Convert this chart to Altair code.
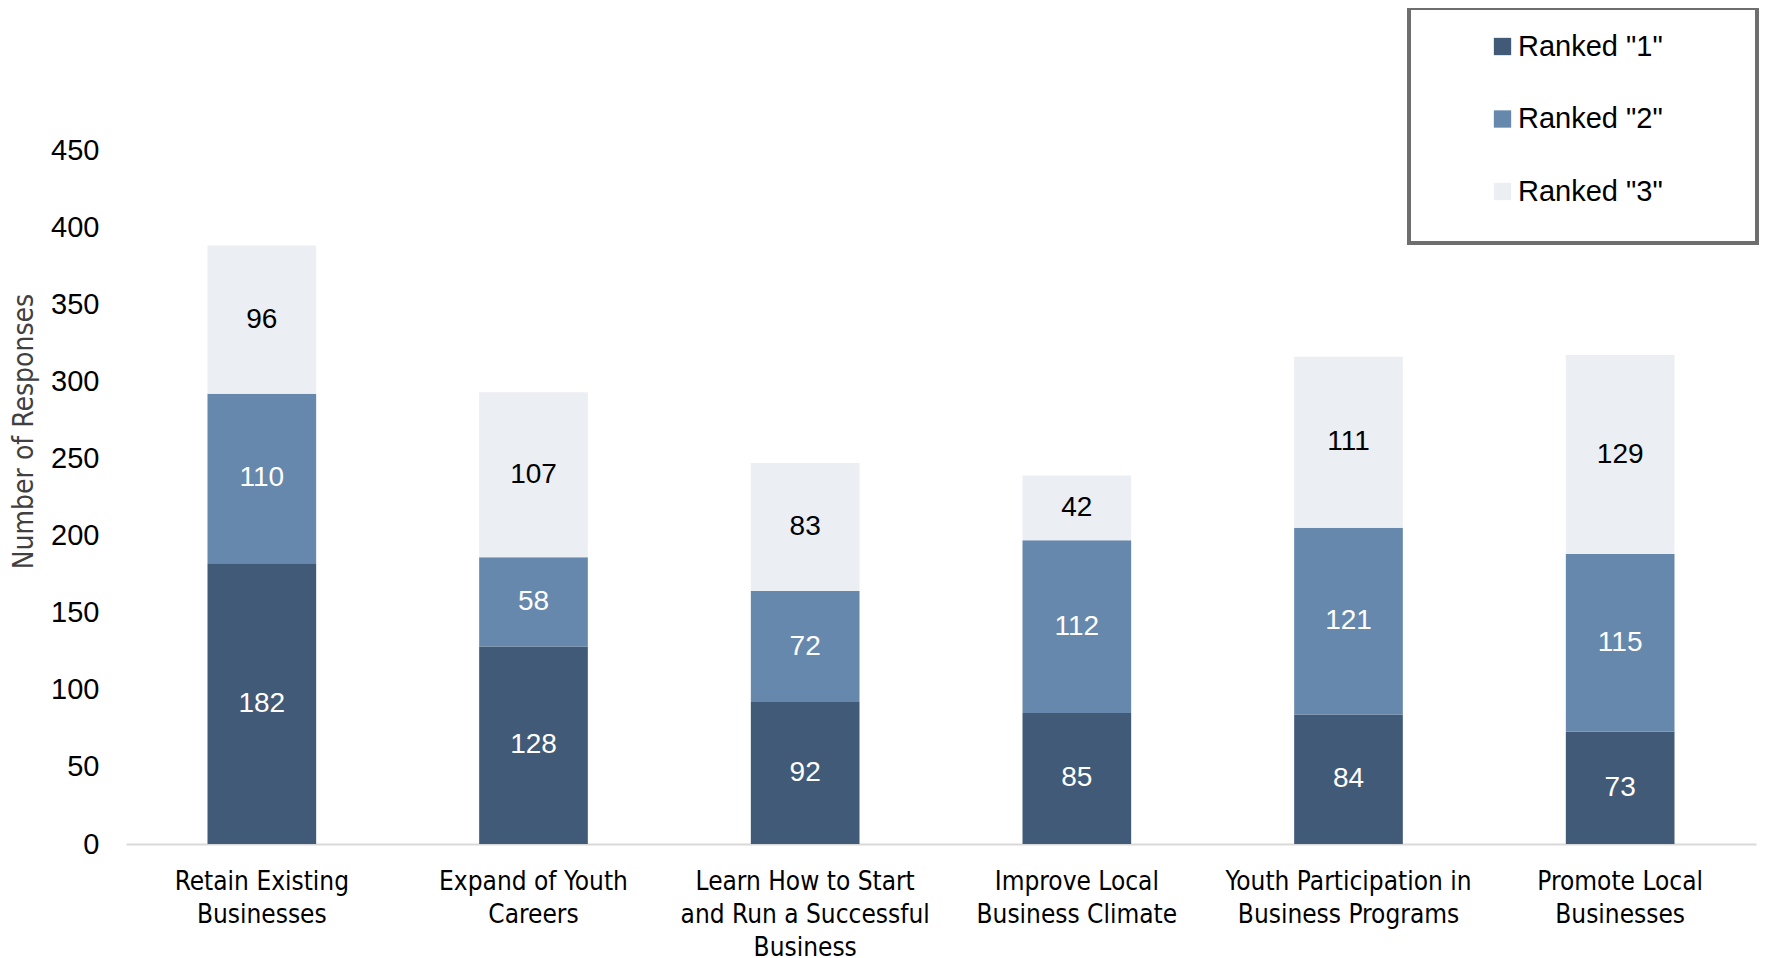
import altair as alt
import pandas as pd

categories = [
    "Retain Existing|Businesses",
    "Expand of Youth|Careers",
    "Learn How to Start|and Run a Successful|Business",
    "Improve Local|Business Climate",
    "Youth Participation in|Business Programs",
    "Promote Local|Businesses",
]
ranks = ['Ranked "1"', 'Ranked "2"', 'Ranked "3"']
rank1 = [182, 128, 92, 85, 84, 73]
rank2 = [110, 58, 72, 112, 121, 115]
rank3 = [96, 107, 83, 42, 111, 129]
y_ticks = [0, 50, 100, 150, 200, 250, 300, 350, 400, 450]
colors = ["#415A77", "#6788AD", "#EBEEF3"]

rows = []
for series, (rank, vals) in enumerate(zip(ranks, [rank1, rank2, rank3])):
    for i, c in enumerate(categories):
        rows.append({"category": c, "rank": rank, "rank_num": series + 1, "value": vals[i], "cat_idx": i})
df = pd.DataFrame(rows)

FONT = "Liberation Sans"
NARROW = "'DejaVu Sans Condensed', 'Roboto Condensed', Roboto, sans-serif"

x_enc = alt.X(
    "category:N",
    sort=categories,
    scale=alt.Scale(paddingInner=0.6, paddingOuter=0.3),
    axis=alt.Axis(
        title=None,
        labelExpr="split(datum.label, '|')",
        labelAngle=0,
        labelFont=NARROW,
        labelFontSize=26,
        labelColor="#000000",
        labelLineHeight=33,
        labelPadding=24,
        labelBaseline="top",
        ticks=False,
        domainColor="#D9D9D9",
        domainWidth=2,
        labelLimit=400,
    ),
)

base = alt.Chart(df)

bars = base.mark_bar().encode(
    x=x_enc,
    y=alt.Y(
        "value:Q",
        stack="zero",
        scale=alt.Scale(domain=[0, 450], nice=False),
        axis=alt.Axis(
            title="Number of Responses",
            titleFont=NARROW,
            titleFontSize=28,
            titleFontWeight="normal",
            titleColor="#404040",
            titleX=-102,
            titleY=281,
            titleAngle=270,
            titleAlign="center",
            titleBaseline="middle",
            values=y_ticks,
            labelFont=FONT,
            labelFontSize=29,
            labelColor="#000000",
            labelPadding=27,
            grid=False,
            domain=False,
            ticks=False,
        ),
    ),
    color=alt.Color(
        "rank:N",
        scale=alt.Scale(domain=ranks, range=colors),
        legend=alt.Legend(
            title=None,
            orient="none",
            legendX=1362,
            legendY=-118,
            symbolType="square",
            symbolSize=300,
            symbolStrokeWidth=0,
            labelFont=FONT,
            labelFontSize=29,
            labelColor="#000000",
            labelOffset=1,
            rowPadding=42.5,
            padding=0,
        ),
    ),
    order=alt.Order("rank_num:Q", sort="ascending"),
)

labels = base.transform_stack(
    stack="value", groupby=["category"], as_=["y0", "y1"], sort=[alt.SortField("rank_num", "ascending")]
).transform_calculate(
    mid="(datum.y0 + datum.y1) / 2"
).mark_text(font=FONT, fontSize=28, baseline="middle", align="center").encode(
    x=alt.X("category:N", sort=categories),
    y=alt.Y("mid:Q"),
    text=alt.Text("value:Q"),
    color=alt.condition("datum.rank_num == 3", alt.value("#000000"), alt.value("#FFFFFF")),
)

frame = alt.Chart(alt.Data(values=[{"a": 1}])).mark_rect(
    fill="#FFFFFF", stroke="#6E6E6E", strokeWidth=4
).encode(
    x=alt.value(1283), x2=alt.value(1631), y=alt.value(-142), y2=alt.value(93)
)

chart = alt.layer(frame, bars, labels).properties(
    width=1630,
    height=694,
    autosize=alt.AutoSizeParams(type="none"),
    padding={"left": 118, "top": 142, "right": 3, "bottom": 116},
).configure_view(stroke=None)

chart.save("out.html", embed_options={"renderer": "svg", "actions": False})
